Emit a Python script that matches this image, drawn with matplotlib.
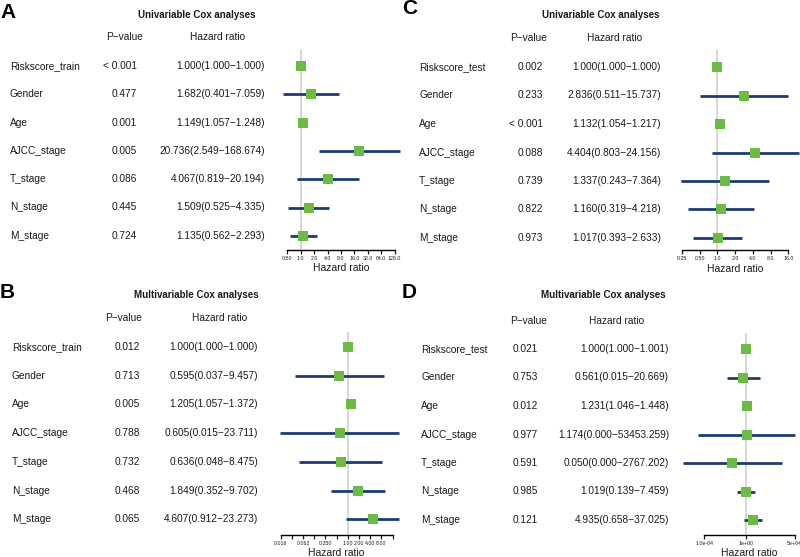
import matplotlib
matplotlib.use('Agg')
import matplotlib.pyplot as plt
from matplotlib.ticker import NullLocator

plt.rcParams['font.family'] = ['Liberation Sans', 'DejaVu Sans']

# ---- data ----
variables_train = ['Riskscore_train', 'Gender', 'Age', 'AJCC_stage', 'T_stage', 'N_stage', 'M_stage']
variables_test = ['Riskscore_test', 'Gender', 'Age', 'AJCC_stage', 'T_stage', 'N_stage', 'M_stage']

# A: univariable, train
a_p = ['< 0.001', '0.477', '0.001', '0.005', '0.086', '0.445', '0.724']
a_hr = [1.000, 1.682, 1.149, 20.736, 4.067, 1.509, 1.135]
a_lo = [1.000, 0.401, 1.057, 2.549, 0.819, 0.525, 0.562]
a_hi = [1.000, 7.059, 1.248, 168.674, 20.194, 4.335, 2.293]

# B: multivariable, train
b_p = ['0.012', '0.713', '0.005', '0.788', '0.732', '0.468', '0.065']
b_hr = [1.000, 0.595, 1.205, 0.605, 0.636, 1.849, 4.607]
b_lo = [1.000, 0.037, 1.057, 0.015, 0.048, 0.352, 0.912]
b_hi = [1.000, 9.457, 1.372, 23.711, 8.475, 9.702, 23.273]

# C: univariable, test
c_p = ['0.002', '0.233', '< 0.001', '0.088', '0.739', '0.822', '0.973']
c_hr = [1.000, 2.836, 1.132, 4.404, 1.337, 1.160, 1.017]
c_lo = [1.000, 0.511, 1.054, 0.803, 0.243, 0.319, 0.393]
c_hi = [1.000, 15.737, 1.217, 24.156, 7.364, 4.218, 2.633]

# D: multivariable, test (tiny lower bounds estimated from the plot)
d_p = ['0.021', '0.753', '0.012', '0.977', '0.591', '0.985', '0.121']
d_hr = [1.000, 0.561, 1.231, 1.174, 0.050, 1.019, 4.935]
d_lo = [1.000, 0.015, 1.046, 2.6e-5, 9e-7, 0.139, 0.658]
d_hi = [1.001, 20.669, 1.448, 53453.259, 2767.202, 7.459, 37.025]

a_ticks = [0.5, 1, 2, 4, 8, 16, 32, 64, 128]
a_labels = ['0.50', '1.0', '2.0', '4.0', '8.0', '16.0', '32.0', '64.0', '128.0']
b_ticks = [2.0 ** k for k in range(-6, 5)]
b_labels = ['0.016', '', '0.062', '', '0.250', '', '1.00', '2.00', '4.00', '8.00', '']
c_ticks = [0.25, 0.5, 1, 2, 4, 8, 16]
c_labels = ['0.25', '0.50', '1.0', '2.0', '4.0', '8.0', '16.0']
d_ticks = [1e-4, 1, 5e4]
d_labels = ['1.0e-04', '1e+00', '5e+04']

W, H = 800, 557
GREEN = '#6cbb45'
NAVY = '#1e3a72'
TXT = '#1a1a1a'


def fx(x):
    return x / W


def fy(y):
    return 1 - y / H


def draw_panel(fig, g, letter, title, names, pvals, hr, lo, hi, ticks, labels, base):
    fig.text(fx(g['letter'][0]), fy(g['letter'][1]), letter, fontsize=15,
             fontweight='bold', ha='left', va='center', color='black')
    fig.text(fx(g['title'][0]), fy(g['title'][1]), title, fontsize=7,
             fontweight='bold', ha='center', va='center', color=TXT)
    fig.text(fx(g['pc']), fy(g['head']), 'P\u2212value', fontsize=7.3,
             ha='center', va='center', color=TXT)
    fig.text(fx(g['hc']), fy(g['head']), 'Hazard ratio', fontsize=7.3,
             ha='center', va='center', color=TXT)

    start, step = g['rows']
    for i, name in enumerate(names):
        y = fy(start + i * step)
        fig.text(fx(g['nx']), y, name, fontsize=7.3, ha='left', va='center', color=TXT)
        fig.text(fx(g['pr']), y, pvals[i], fontsize=7.3, ha='right', va='center', color=TXT)
        s = '%.3f(%.3f\u2212%.3f)' % (hr[i], lo[i], hi[i])
        fig.text(fx(g['hr']), y, s, fontsize=7.3, ha='right', va='center', color=TXT)

    left, right, top, bottom = g['box']
    ax = fig.add_axes([fx(left), fy(bottom), (right - left) / W, (bottom - top) / H])
    ax.set_xscale('log', base=base)
    ax.set_xlim(min(lo), max(hi))
    ax.set_ylim((bottom - start) / step, (top - start) / step)
    ax.patch.set_alpha(0)

    ax.axvline(1, color='#d0d0d0', lw=1.2, zorder=0)
    for i in range(len(names)):
        ax.plot([lo[i], hi[i]], [i, i], color=NAVY, lw=2.0,
                solid_capstyle='butt', clip_on=False, zorder=2)
        ax.plot(hr[i], i, 's', color=GREEN, ms=7, mew=0, clip_on=False, zorder=3)

    for side in ['top', 'right', 'left']:
        ax.spines[side].set_visible(False)
    ax.spines['bottom'].set_bounds(ticks[0], ticks[-1])
    ax.spines['bottom'].set_linewidth(1.0)
    ax.set_yticks([])
    ax.set_xticks(ticks)
    ax.set_xticklabels(labels)
    ax.xaxis.set_minor_locator(NullLocator())
    ax.tick_params(axis='x', labelsize=3.8, length=3, width=0.9, pad=1.5, colors=TXT)

    xc = (ax.transData.transform((ticks[0], 0))[0] + ax.transData.transform((ticks[-1], 0))[0]) / 2
    fig.text(xc / fig.dpi / fig.get_figwidth(), fy(g['xlab']), 'Hazard ratio',
             fontsize=7.5, ha='center', va='center', color=TXT)


fig = plt.figure(figsize=(8, 5.57), dpi=100)

geo_a = dict(letter=(0, 12), title=(197, 15), head=37, pc=125, hc=218,
             rows=(66, 28.3), nx=10, pr=137, hr=265, box=(283, 400, 50, 250), xlab=268)
geo_b = dict(letter=(0, 292), title=(196, 295), head=318, pc=124, hc=220,
             rows=(347, 28.7), nx=12, pr=140, hr=258, box=(280, 399, 332, 535), xlab=553)
geo_c = dict(letter=(402, 8), title=(601, 15), head=38, pc=529, hc=615,
             rows=(67, 28.5), nx=419, pr=543, hr=661, box=(681, 799, 50, 250), xlab=269)
geo_d = dict(letter=(402, 293), title=(603, 295), head=321, pc=529, hc=617,
             rows=(349, 28.5), nx=421, pr=538, hr=669, box=(683, 795, 333, 535), xlab=553)

draw_panel(fig, geo_a, 'A', 'Univariable Cox analyses', variables_train,
           a_p, a_hr, a_lo, a_hi, a_ticks, a_labels, 2)
draw_panel(fig, geo_b, 'B', 'Multivariable Cox analyses', variables_train,
           b_p, b_hr, b_lo, b_hi, b_ticks, b_labels, 2)
draw_panel(fig, geo_c, 'C', 'Univariable Cox analyses', variables_test,
           c_p, c_hr, c_lo, c_hi, c_ticks, c_labels, 2)
draw_panel(fig, geo_d, 'D', 'Multivariable Cox analyses', variables_test,
           d_p, d_hr, d_lo, d_hi, d_ticks, d_labels, 10)

fig.savefig('out.png', dpi=100)
